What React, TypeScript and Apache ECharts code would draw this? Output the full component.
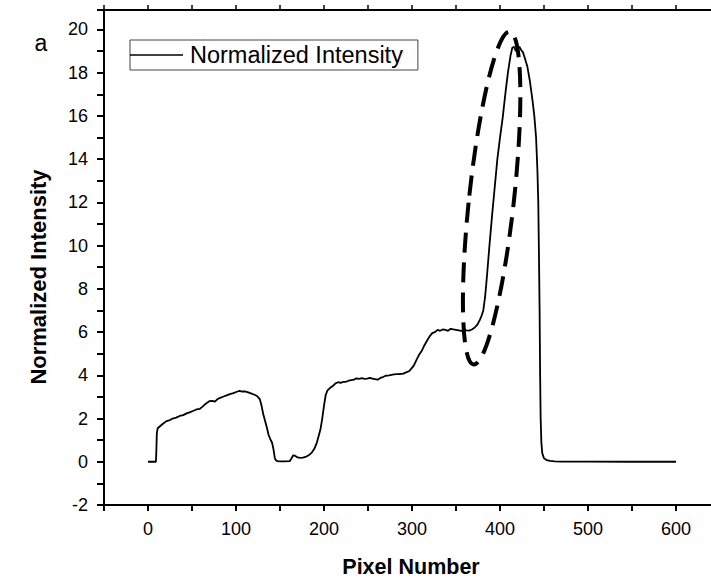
import React, { useEffect, useRef } from 'react';
import * as echarts from 'echarts';

// Pixel positions and normalized intensity
const pixelNumber: number[] = [
  0, 9, 9.5, 10, 11, 13, 17, 21, 25, 28, 32, 36, 40, 44, 48, 51, 55, 59, 62, 66,
  70, 73, 76, 79, 82, 86, 90, 93, 97, 101, 104, 107, 110, 113, 117, 121, 124, 127, 129, 131,
  133, 135, 137, 139, 141, 142.5, 144, 145, 147, 150, 155, 161, 163, 165, 167, 170, 173, 176, 180, 183,
  186, 189, 192, 194, 196, 198, 200, 202, 204, 207, 210, 213, 216, 219, 222, 225, 228, 231, 234, 237,
  240, 243, 246, 249, 252, 255, 258, 261, 264, 267, 270, 274, 278, 282, 286, 290, 294, 297, 299, 302,
  305, 308, 311, 314, 317, 320, 323, 326, 329, 332, 335, 338, 341, 344, 347, 350, 353, 356, 359, 362,
  365, 368, 371, 374, 377, 379, 381, 383, 385, 388, 391, 394, 397, 400, 403, 406, 409, 412, 414, 416,
  418, 420, 422, 424, 426, 428, 431, 434, 437, 439, 441, 442.5, 443.5, 444.3, 445, 445.6, 446.2, 447, 448, 450,
  453, 457, 462, 470, 500, 550, 600,
];
const intensity: number[] = [
  0, 0, 0.5, 1.3, 1.55, 1.62, 1.76, 1.88, 1.93, 2.0, 2.04, 2.12, 2.16, 2.24, 2.3, 2.35, 2.42, 2.45, 2.55, 2.7,
  2.81, 2.82, 2.78, 2.9, 2.96, 3.02, 3.08, 3.13, 3.18, 3.24, 3.28, 3.25, 3.26, 3.22, 3.16, 3.1, 3.04, 2.9, 2.6, 2.2,
  1.9, 1.6, 1.25, 1.05, 0.88, 0.6, 0.2, 0.08, 0.03, 0.02, 0.02, 0.03, 0.15, 0.3, 0.28, 0.2, 0.18, 0.19, 0.24, 0.31,
  0.42, 0.6, 0.9, 1.2, 1.5, 2.0, 2.6, 3.1, 3.3, 3.42, 3.5, 3.63, 3.68, 3.65, 3.7, 3.7, 3.75, 3.78, 3.8, 3.86,
  3.84, 3.87, 3.83, 3.85, 3.88, 3.85, 3.82, 3.8, 3.88, 3.92, 3.98, 4.0, 4.03, 4.05, 4.06, 4.08, 4.15, 4.2, 4.3, 4.45,
  4.7, 4.95, 5.12, 5.38, 5.6, 5.8, 5.95, 6.0, 6.1, 6.06, 6.12, 6.1, 6.06, 6.15, 6.12, 6.1, 6.08, 6.05, 6.1, 6.08,
  6.07, 6.12, 6.2, 6.33, 6.55, 6.75, 7.0, 7.6, 8.5, 10.0, 11.4, 12.7, 14.0, 15.0, 15.9, 17.0, 18.0, 18.8, 19.15, 19.2,
  19.0, 19.1, 19.2, 19.05, 18.95, 18.7, 18.3, 17.6, 16.7, 16.0, 15.0, 13.5, 12.0, 9.5, 7.0, 4.0, 2.0, 0.9, 0.4, 0.16,
  0.08, 0.04, 0.02, 0.01, 0.01, 0, 0,
];

const seriesName = 'Normalized Intensity';
const xAxisTitle = 'Pixel Number';
const yAxisTitle = 'Normalized Intensity';
const panelLabel = 'a';

const xRange: [number, number] = [-50, 650];
const yRange: [number, number] = [-2, 20.9];
const xLabelValues: number[] = [0, 100, 200, 300, 400, 500, 600];
const yLabelValues: number[] = [-2, 0, 2, 4, 6, 8, 10, 12, 14, 16, 18, 20];

// Dashed ellipse annotation (data coordinates of the ends of its long axis)
const ellipseTop: [number, number] = [411, 19.9];
const ellipseBottom: [number, number] = [370, 4.5];
const ellipseHalfWidthX = 25.5; // in pixel-number units

const FONT = '"Liberation Sans", Arial, Helvetica, sans-serif';

export default function App() {
  const ref = useRef<HTMLDivElement>(null);

  useEffect(() => {
    if (!ref.current) return;
    const chart = echarts.init(ref.current, null, { renderer: 'svg' });
    const data = pixelNumber.map((x, i) => [x, intensity[i]]);
    const axisLine = { show: true, onZero: false, lineStyle: { color: '#000', width: 2 } };

    chart.setOption({
      animation: false,
      backgroundColor: '#fff',
      grid: { left: 104, top: 10, right: -9, bottom: 74, containLabel: false, outerBoundsMode: 'none' },
      legend: {
        show: true,
        left: 130,
        top: 40,
        orient: 'horizontal',
        padding: [3, 15, 3, 0],
        borderColor: '#444',
        borderWidth: 1,
        itemWidth: 53,
        itemHeight: 1.6,
        icon: 'rect',
        textStyle: { fontFamily: FONT, fontSize: 23.5, color: '#000', padding: [0, 0, 0, 2] },
        data: [{ name: seriesName, icon: 'rect', itemStyle: { color: '#000' } }],
      },
      xAxis: [
        {
          type: 'value',
          min: xRange[0],
          max: xRange[1],
          interval: 50,
          position: 'bottom',
          axisLine,
          axisTick: { show: true, inside: false, length: 6, lineStyle: { color: '#000', width: 2 } },
          axisLabel: {
            show: true,
            margin: 15,
            fontFamily: FONT,
            fontSize: 18,
            color: '#000',
            showMinLabel: true,
            showMaxLabel: true,
            formatter: (v: number) => (xLabelValues.includes(v) ? String(v) : ''),
          },
          splitLine: { show: false },
        },
        {
          type: 'value',
          min: xRange[0],
          max: xRange[1],
          interval: 50,
          position: 'top',
          axisLine,
          axisTick: { show: true, inside: false, length: 5, lineStyle: { color: '#000', width: 1.5 } },
          axisLabel: { show: false },
          splitLine: { show: false },
        },
      ],
      yAxis: [
        {
          type: 'value',
          min: yRange[0],
          max: yRange[1],
          interval: 1,
          position: 'left',
          axisLine,
          axisTick: { show: true, inside: false, length: 7, lineStyle: { color: '#000', width: 2 } },
          axisLabel: {
            show: true,
            margin: 16,
            fontFamily: FONT,
            fontSize: 18,
            color: '#000',
            formatter: (v: number) => (yLabelValues.includes(v) ? String(v) : ''),
          },
          splitLine: { show: false },
        },
        {
          type: 'value',
          min: yRange[0],
          max: yRange[1],
          interval: 1,
          position: 'right',
          axisLine,
          axisTick: { show: true, inside: false, length: 6 },
          axisLabel: { show: false },
          splitLine: { show: false },
        },
      ],
      series: [
        {
          name: seriesName,
          type: 'line',
          xAxisIndex: 0,
          yAxisIndex: 0,
          data,
          symbol: 'none',
          showSymbol: false,
          smooth: false,
          lineStyle: { color: '#000', width: 1.8 },
          itemStyle: { color: '#000' },
        },
      ],
    });

    const finder = { xAxisIndex: 0, yAxisIndex: 0 };
    const pTop = chart.convertToPixel(finder, ellipseTop) as number[];
    const pBot = chart.convertToPixel(finder, ellipseBottom) as number[];
    const p0 = chart.convertToPixel(finder, [0, 0]) as number[];
    const pW = chart.convertToPixel(finder, [ellipseHalfWidthX, 0]) as number[];
    const cx = (pTop[0] + pBot[0]) / 2;
    const cy = (pTop[1] + pBot[1]) / 2;
    const dx = pTop[0] - pBot[0];
    const dy = pBot[1] - pTop[1];
    const halfLen = Math.sqrt(dx * dx + dy * dy) / 2;
    const halfWidth = pW[0] - p0[0];
    const rotation = -Math.atan2(dx, dy);

    chart.setOption({
      graphic: [
        {
          type: 'ellipse',
          id: 'annot',
          x: cx,
          y: cy,
          rotation,
          shape: { cx: 0, cy: 0, rx: halfWidth, ry: halfLen },
          style: { fill: 'none', stroke: '#000', lineWidth: 4, lineDash: [20, 10] },
          z: 100,
        },
        {
          type: 'text',
          id: 'panel',
          x: 41,
          y: 43,
          style: { text: panelLabel, font: `23px ${FONT}`, fill: '#000', textAlign: 'center', textVerticalAlign: 'middle' },
        },
        {
          type: 'text',
          id: 'xtitle',
          x: 411,
          y: 567,
          style: { text: xAxisTitle, font: `bold 21.5px ${FONT}`, fill: '#000', textAlign: 'center', textVerticalAlign: 'middle' },
        },
        {
          type: 'text',
          id: 'ytitle',
          x: 38,
          y: 277,
          rotation: Math.PI / 2,
          style: { text: yAxisTitle, font: `bold 22px ${FONT}`, fill: '#000', textAlign: 'center', textVerticalAlign: 'middle' },
        },
      ],
    });

    return () => chart.dispose();
  }, []);

  return (
    <div
      ref={ref}
      style={{ position: 'fixed', left: 0, top: 0, width: 711, height: 579, background: '#fff' }}
    />
  );
}
